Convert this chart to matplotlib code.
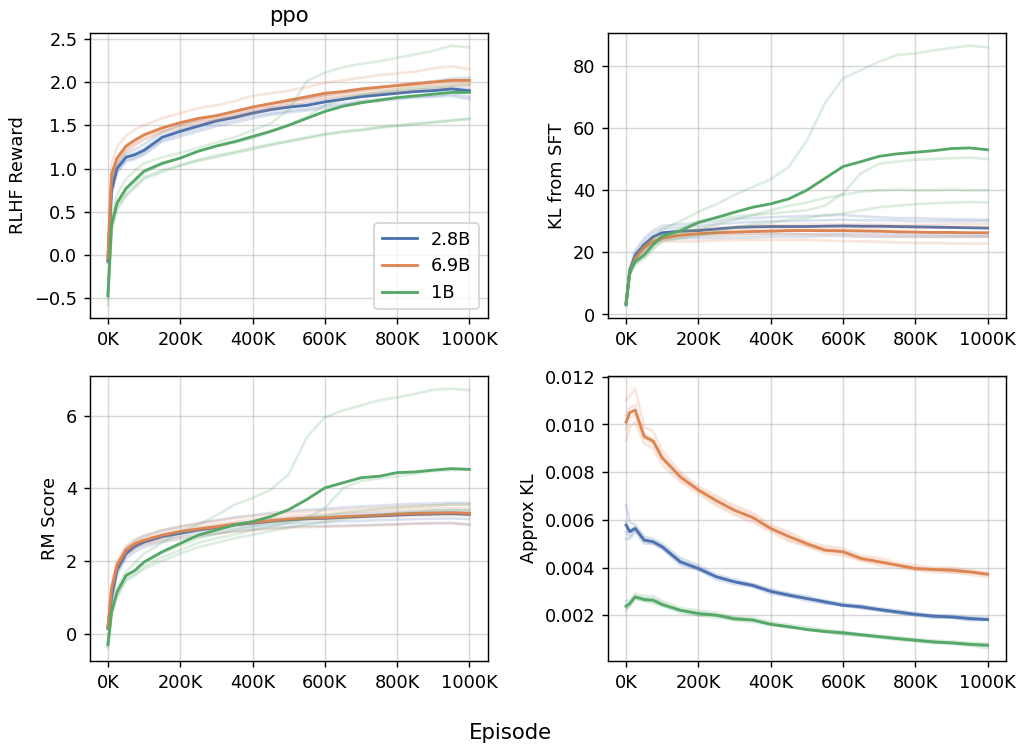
import numpy as np
import matplotlib
matplotlib.use("Agg")
import matplotlib.pyplot as plt
from matplotlib.ticker import FuncFormatter, MultipleLocator

# episode checkpoints (thousands)
episodes_k = [0, 10, 25, 50, 75, 100, 150, 200, 250, 300, 350, 400, 450,
              500, 550, 600, 650, 700, 750, 800, 850, 900, 950, 1000]

models = ["2.8B", "6.9B", "1B"]
colors = ["#4C72B0", "#DD8452", "#55A868"]

# ---- RLHF Reward ----
reward_2_8b = [-0.07, 0.75, 1.00, 1.13, 1.16, 1.21, 1.36, 1.43, 1.49, 1.55, 1.59, 1.64, 1.68,
               1.71, 1.73, 1.77, 1.80, 1.83, 1.85, 1.87, 1.89, 1.90, 1.92, 1.90]
reward_2_8b_runs = [
    [-0.05, 0.80, 1.05, 1.18, 1.22, 1.28, 1.42, 1.50, 1.56, 1.62, 1.66, 1.71, 1.75, 1.78, 1.81, 1.85, 1.88, 1.91, 1.94, 1.96, 1.99, 2.01, 2.04, 2.05],
    [-0.06, 0.77, 1.02, 1.15, 1.18, 1.23, 1.38, 1.45, 1.51, 1.57, 1.61, 1.66, 1.70, 1.73, 1.75, 1.79, 1.82, 1.85, 1.87, 1.89, 1.91, 1.92, 1.94, 1.92],
    [-0.08, 0.72, 0.97, 1.10, 1.13, 1.18, 1.33, 1.40, 1.46, 1.52, 1.56, 1.61, 1.64, 1.67, 1.69, 1.73, 1.75, 1.78, 1.80, 1.82, 1.83, 1.84, 1.86, 1.83],
    [-0.09, 0.70, 0.95, 1.08, 1.11, 1.16, 1.31, 1.37, 1.43, 1.49, 1.53, 1.58, 1.62, 1.65, 1.67, 1.70, 1.73, 1.77, 1.78, 1.80, 1.82, 1.83, 1.84, 1.80],
]
reward_6_9b = [-0.03, 0.93, 1.12, 1.26, 1.33, 1.39, 1.47, 1.53, 1.58, 1.61, 1.66, 1.71, 1.75,
               1.79, 1.83, 1.87, 1.89, 1.92, 1.94, 1.96, 1.98, 2.00, 2.02, 2.02]
reward_6_9b_runs = [
    [0.02, 1.05, 1.25, 1.38, 1.45, 1.50, 1.58, 1.64, 1.70, 1.73, 1.78, 1.84, 1.87, 1.90, 1.94, 1.99, 2.02, 2.05, 2.08, 2.10, 2.12, 2.16, 2.18, 2.15],
    [-0.05, 0.92, 1.10, 1.24, 1.31, 1.38, 1.45, 1.51, 1.55, 1.60, 1.64, 1.69, 1.73, 1.77, 1.81, 1.85, 1.87, 1.90, 1.92, 1.94, 1.96, 1.97, 2.00, 2.00],
    [-0.04, 0.88, 1.08, 1.22, 1.28, 1.35, 1.43, 1.50, 1.55, 1.57, 1.62, 1.67, 1.71, 1.76, 1.80, 1.83, 1.85, 1.88, 1.90, 1.92, 1.95, 1.96, 1.98, 1.97],
    [-0.06, 0.86, 1.05, 1.20, 1.27, 1.33, 1.42, 1.47, 1.52, 1.56, 1.60, 1.64, 1.69, 1.73, 1.77, 1.81, 1.83, 1.86, 1.87, 1.89, 1.91, 1.93, 1.95, 1.96],
]
reward_1b = [-0.47, 0.35, 0.60, 0.77, 0.87, 0.97, 1.06, 1.12, 1.20, 1.26, 1.31, 1.37, 1.43,
             1.50, 1.58, 1.66, 1.72, 1.76, 1.79, 1.82, 1.84, 1.86, 1.88, 1.88]
reward_1b_runs = [
    [-0.45, 0.45, 0.70, 0.88, 0.98, 1.06, 1.13, 1.18, 1.24, 1.30, 1.36, 1.44, 1.52, 1.68, 2.01, 2.11, 2.17, 2.21, 2.24, 2.28, 2.32, 2.36, 2.42, 2.40],
    [-0.48, 0.35, 0.58, 0.75, 0.85, 0.95, 1.05, 1.12, 1.20, 1.26, 1.30, 1.35, 1.42, 1.50, 1.60, 1.73, 1.80, 1.85, 1.88, 1.91, 1.93, 1.94, 1.96, 1.97],
    [-0.50, 0.30, 0.55, 0.70, 0.80, 0.90, 0.98, 1.04, 1.10, 1.15, 1.19, 1.24, 1.28, 1.32, 1.36, 1.40, 1.43, 1.45, 1.48, 1.50, 1.52, 1.54, 1.56, 1.58],
    [-0.58, 0.28, 0.52, 0.68, 0.78, 0.88, 0.96, 1.03, 1.09, 1.13, 1.18, 1.22, 1.27, 1.31, 1.35, 1.39, 1.42, 1.44, 1.47, 1.49, 1.51, 1.53, 1.55, 1.57],
]

# ---- KL from SFT ----
kl_2_8b = [3.5, 14.0, 19.0, 22.5, 25.0, 26.3, 26.8, 27.0, 27.5, 28.0, 28.2, 28.3, 28.3,
           28.3, 28.4, 28.5, 28.4, 28.4, 28.3, 28.2, 28.1, 28.0, 27.9, 27.8]
kl_2_8b_runs = [
    [3.5, 15.0, 20.5, 24.5, 27.0, 28.5, 29.0, 29.5, 30.0, 30.8, 31.0, 31.3, 31.5, 31.7, 31.8, 32.0, 31.6, 31.3, 31.0, 31.0, 30.8, 30.7, 30.6, 30.5],
    [3.5, 14.5, 19.5, 23.5, 26.0, 27.5, 28.0, 28.5, 29.0, 29.5, 29.8, 30.0, 30.0, 30.2, 30.3, 30.5, 30.3, 30.3, 30.2, 30.0, 30.0, 30.0, 30.0, 30.0],
    [3.5, 13.5, 18.5, 21.5, 24.0, 25.0, 25.5, 25.5, 25.8, 26.0, 26.0, 26.0, 26.0, 25.8, 26.0, 26.0, 26.0, 26.0, 25.9, 25.8, 25.7, 25.6, 25.5, 25.5],
    [3.5, 13.0, 17.5, 20.5, 23.0, 24.2, 24.5, 24.5, 24.6, 24.7, 24.8, 25.0, 25.0, 25.0, 25.2, 25.2, 25.0, 25.0, 25.0, 25.0, 25.0, 25.0, 25.0, 25.0],
]
kl_6_9b = [4.0, 13.0, 18.0, 21.5, 23.5, 24.5, 25.5, 26.0, 26.3, 26.5, 26.7, 26.8, 27.0,
           27.0, 27.0, 27.0, 26.9, 26.8, 26.6, 26.5, 26.4, 26.4, 26.3, 26.3]
kl_6_9b_runs = [
    [4.0, 13.5, 18.5, 22.5, 24.5, 25.5, 26.8, 27.5, 28.0, 28.2, 28.5, 28.6, 28.8, 29.0, 29.0, 29.0, 29.0, 28.9, 28.8, 28.8, 28.9, 29.0, 29.0, 29.0],
    [4.0, 13.2, 18.2, 22.0, 24.0, 25.0, 26.0, 26.6, 27.0, 27.2, 27.5, 27.6, 27.8, 27.9, 28.0, 28.0, 27.9, 27.9, 27.9, 27.8, 27.9, 28.0, 28.0, 28.0],
    [4.0, 12.8, 17.8, 21.0, 23.0, 24.0, 24.8, 25.2, 25.3, 25.5, 25.6, 25.7, 25.8, 25.8, 25.6, 25.6, 25.4, 25.3, 25.2, 25.1, 25.0, 25.0, 25.0, 25.0],
    [4.0, 12.5, 17.5, 20.5, 22.5, 23.5, 23.5, 23.5, 23.8, 23.9, 24.0, 24.0, 24.0, 24.0, 23.8, 23.6, 23.5, 23.4, 23.2, 23.0, 23.0, 22.9, 22.8, 22.8],
]
kl_1b = [3.1, 13.8, 17.0, 19.2, 22.5, 25.2, 26.9, 29.6, 31.2, 32.9, 34.5, 35.6, 37.2,
         40.0, 43.8, 47.6, 49.2, 50.9, 51.7, 52.2, 52.7, 53.4, 53.6, 53.0]
kl_1b_runs = [
    [3.0, 14.5, 18.5, 21.5, 24.5, 27.5, 30.0, 33.0, 35.5, 38.5, 41.0, 43.5, 47.5, 56.0, 68.0, 76.0, 78.7, 81.4, 83.5, 84.0, 85.0, 85.8, 86.5, 86.0],
    [3.0, 13.5, 16.5, 19.0, 22.5, 25.5, 27.5, 30.0, 31.0, 31.5, 32.0, 32.5, 33.0, 33.5, 35.0, 39.0, 45.5, 48.5, 49.2, 49.8, 50.0, 50.3, 50.5, 50.0],
    [3.2, 13.5, 16.5, 18.5, 21.5, 24.5, 26.0, 27.5, 29.0, 30.5, 32.0, 33.5, 35.0, 36.0, 37.5, 38.5, 39.5, 40.0, 40.2, 40.0, 40.0, 40.2, 40.0, 40.0],
    [3.2, 13.0, 16.0, 18.0, 21.0, 23.5, 24.5, 25.5, 26.5, 28.0, 29.0, 29.5, 30.5, 31.0, 32.0, 32.5, 33.5, 34.5, 35.0, 35.5, 35.8, 36.0, 36.2, 36.0],
]

# ---- RM Score ----
rm_2_8b = [0.15, 1.00, 1.75, 2.20, 2.40, 2.52, 2.67, 2.76, 2.85, 2.92, 2.99, 3.04, 3.09,
           3.13, 3.16, 3.17, 3.20, 3.22, 3.24, 3.26, 3.28, 3.29, 3.30, 3.28]
rm_2_8b_runs = [
    [0.18, 1.10, 1.88, 2.35, 2.55, 2.68, 2.84, 2.94, 3.04, 3.12, 3.20, 3.26, 3.32, 3.37, 3.41, 3.43, 3.47, 3.50, 3.52, 3.55, 3.57, 3.58, 3.60, 3.60],
    [0.16, 1.03, 1.78, 2.24, 2.44, 2.56, 2.71, 2.80, 2.89, 2.96, 3.03, 3.08, 3.14, 3.18, 3.22, 3.24, 3.27, 3.30, 3.32, 3.34, 3.36, 3.38, 3.39, 3.38],
    [0.13, 0.97, 1.70, 2.15, 2.34, 2.46, 2.60, 2.69, 2.78, 2.84, 2.90, 2.95, 2.99, 3.03, 3.05, 3.06, 3.09, 3.10, 3.12, 3.14, 3.15, 3.16, 3.17, 3.15],
    [0.12, 0.92, 1.62, 2.06, 2.26, 2.38, 2.52, 2.60, 2.68, 2.75, 2.82, 2.87, 2.91, 2.94, 2.96, 2.96, 2.97, 2.98, 3.00, 3.01, 3.03, 3.04, 3.05, 3.00],
]
rm_6_9b = [0.17, 1.23, 1.88, 2.30, 2.48, 2.57, 2.71, 2.81, 2.88, 2.94, 3.01, 3.06, 3.11,
           3.15, 3.18, 3.19, 3.22, 3.24, 3.26, 3.29, 3.31, 3.32, 3.33, 3.31]
rm_6_9b_runs = [
    [0.20, 1.35, 2.00, 2.42, 2.60, 2.70, 2.85, 2.95, 3.03, 3.10, 3.17, 3.22, 3.28, 3.32, 3.36, 3.38, 3.41, 3.44, 3.46, 3.49, 3.51, 3.53, 3.55, 3.55],
    [0.18, 1.28, 1.92, 2.35, 2.52, 2.62, 2.77, 2.87, 2.95, 3.01, 3.08, 3.13, 3.19, 3.23, 3.27, 3.29, 3.33, 3.35, 3.38, 3.41, 3.43, 3.44, 3.46, 3.45],
    [0.15, 1.18, 1.85, 2.27, 2.44, 2.53, 2.67, 2.77, 2.84, 2.90, 2.97, 3.02, 3.06, 3.10, 3.13, 3.14, 3.17, 3.19, 3.21, 3.23, 3.24, 3.25, 3.26, 3.25],
    [0.12, 1.10, 1.75, 2.18, 2.36, 2.45, 2.56, 2.65, 2.70, 2.75, 2.80, 2.84, 2.88, 2.91, 2.93, 2.94, 2.95, 2.97, 2.98, 3.00, 3.02, 3.03, 3.03, 3.00],
]
rm_1b = [-0.30, 0.60, 1.14, 1.60, 1.74, 1.97, 2.25, 2.48, 2.71, 2.85, 2.99, 3.08, 3.22,
         3.41, 3.69, 4.01, 4.15, 4.29, 4.33, 4.43, 4.45, 4.50, 4.54, 4.52]
rm_1b_runs = [
    [-0.30, 0.70, 1.25, 1.70, 1.95, 2.20, 2.50, 2.80, 3.00, 3.25, 3.55, 3.73, 3.96, 4.38, 5.40, 5.95, 6.14, 6.28, 6.42, 6.50, 6.60, 6.71, 6.74, 6.70],
    [-0.30, 0.60, 1.12, 1.58, 1.75, 1.95, 2.22, 2.42, 2.62, 2.75, 2.85, 2.95, 3.05, 3.10, 3.18, 3.45, 4.00, 4.20, 4.27, 4.33, 4.40, 4.47, 4.50, 4.52],
    [-0.35, 0.55, 1.05, 1.50, 1.65, 1.85, 2.10, 2.30, 2.50, 2.62, 2.72, 2.85, 2.95, 3.05, 3.15, 3.25, 3.32, 3.38, 3.43, 3.47, 3.50, 3.52, 3.55, 3.55],
    [-0.40, 0.50, 1.00, 1.45, 1.60, 1.78, 2.00, 2.20, 2.38, 2.50, 2.62, 2.72, 2.82, 2.92, 3.00, 3.08, 3.15, 3.22, 3.27, 3.32, 3.35, 3.38, 3.40, 3.40],
]

# ---- Approx KL ----
akl_2_8b = [0.00578, 0.00550, 0.00564, 0.00515, 0.00508, 0.00487, 0.00424, 0.00396, 0.00361, 0.00340, 0.00325, 0.00300,
            0.00284, 0.00270, 0.00256, 0.00242, 0.00235, 0.00224, 0.00214, 0.00204, 0.00196, 0.00193, 0.00186, 0.00182]
akl_2_8b_runs = [
    [0.0066, 0.0059, 0.0058, 0.0053, 0.0052, 0.0050, 0.0044, 0.0041, 0.0037, 0.0035, 0.0033, 0.0031, 0.0029, 0.0028, 0.0026, 0.0025, 0.0024, 0.0023, 0.0022, 0.0021, 0.0020, 0.0020, 0.0019, 0.0019],
    [0.0059, 0.0056, 0.0057, 0.0052, 0.0051, 0.0049, 0.0043, 0.0040, 0.0036, 0.0034, 0.0033, 0.0030, 0.0029, 0.0027, 0.0026, 0.0024, 0.0024, 0.0022, 0.0021, 0.0020, 0.0020, 0.0019, 0.0019, 0.0018],
    [0.0055, 0.0053, 0.0056, 0.0051, 0.0050, 0.0048, 0.0042, 0.0039, 0.0036, 0.0034, 0.0032, 0.0030, 0.0028, 0.0027, 0.0025, 0.0024, 0.0023, 0.0022, 0.0021, 0.0020, 0.0019, 0.0019, 0.0018, 0.0018],
    [0.0052, 0.0052, 0.0055, 0.0050, 0.0050, 0.0048, 0.0041, 0.0039, 0.0035, 0.0033, 0.0032, 0.0029, 0.0028, 0.0026, 0.0025, 0.0024, 0.0023, 0.0022, 0.0021, 0.0020, 0.0019, 0.0019, 0.0018, 0.0018],
]
akl_6_9b = [0.0101, 0.0105, 0.0106, 0.0095, 0.0093, 0.0086, 0.0078, 0.00725, 0.0068, 0.0064, 0.0061, 0.00564,
            0.0053, 0.0050, 0.00473, 0.00466, 0.00438, 0.00424, 0.0041, 0.00396, 0.00392, 0.00389, 0.00382, 0.00372]
akl_6_9b_runs = [
    [0.0110, 0.0112, 0.0115, 0.0099, 0.0097, 0.0089, 0.0080, 0.0074, 0.0070, 0.0066, 0.0063, 0.0058, 0.0055, 0.0051, 0.0049, 0.0048, 0.0045, 0.0044, 0.0042, 0.0041, 0.0040, 0.0040, 0.0039, 0.0038],
    [0.0104, 0.0107, 0.0108, 0.0096, 0.0094, 0.0087, 0.0079, 0.0073, 0.0069, 0.0065, 0.0062, 0.0057, 0.0054, 0.0050, 0.0048, 0.0047, 0.0044, 0.0043, 0.0041, 0.0040, 0.0039, 0.0039, 0.0038, 0.0037],
    [0.0098, 0.0103, 0.0104, 0.0094, 0.0092, 0.0085, 0.0077, 0.0072, 0.0067, 0.0063, 0.0060, 0.0056, 0.0052, 0.0049, 0.0047, 0.0046, 0.0043, 0.0042, 0.0041, 0.0039, 0.0039, 0.0038, 0.0038, 0.0037],
    [0.0093, 0.0099, 0.0101, 0.0092, 0.0090, 0.0083, 0.0076, 0.0071, 0.0066, 0.0062, 0.0059, 0.0055, 0.0051, 0.0049, 0.0046, 0.0045, 0.0043, 0.0041, 0.0040, 0.0039, 0.0038, 0.0038, 0.0037, 0.0036],
]
akl_1b = [0.00238, 0.00249, 0.00277, 0.00266, 0.00263, 0.00245, 0.00221, 0.00207, 0.00200, 0.00185, 0.00180, 0.00162,
          0.00152, 0.00140, 0.00132, 0.00126, 0.00118, 0.00110, 0.00102, 0.00095, 0.00088, 0.00084, 0.00078, 0.00074]
akl_1b_runs = [
    [0.0026, 0.0026, 0.0029, 0.0028, 0.0028, 0.0026, 0.0023, 0.0022, 0.0021, 0.0019, 0.0019, 0.0017, 0.0016, 0.0015, 0.0014, 0.0013, 0.0012, 0.00115, 0.00108, 0.00101, 0.00094, 0.00090, 0.00085, 0.00082],
    [0.0024, 0.0025, 0.0028, 0.0027, 0.0027, 0.0025, 0.0022, 0.0021, 0.0020, 0.0019, 0.0018, 0.0016, 0.0015, 0.0014, 0.0013, 0.0013, 0.0012, 0.00111, 0.00103, 0.00096, 0.00089, 0.00085, 0.00079, 0.00075],
    [0.0023, 0.0024, 0.0027, 0.0026, 0.0026, 0.0024, 0.0022, 0.0020, 0.0020, 0.0018, 0.0018, 0.0016, 0.0015, 0.0014, 0.0013, 0.0012, 0.00115, 0.00108, 0.00100, 0.00093, 0.00086, 0.00082, 0.00076, 0.00071],
    [0.0022, 0.0024, 0.0027, 0.0026, 0.0025, 0.0024, 0.0021, 0.0020, 0.0019, 0.0018, 0.0017, 0.0016, 0.0015, 0.0014, 0.0013, 0.0012, 0.00113, 0.00105, 0.00097, 0.00090, 0.00083, 0.00079, 0.00073, 0.00062],
]

panels = [
    ("RLHF Reward", [reward_2_8b, reward_6_9b, reward_1b], [reward_2_8b_runs, reward_6_9b_runs, reward_1b_runs]),
    ("KL from SFT", [kl_2_8b, kl_6_9b, kl_1b], [kl_2_8b_runs, kl_6_9b_runs, kl_1b_runs]),
    ("RM Score", [rm_2_8b, rm_6_9b, rm_1b], [rm_2_8b_runs, rm_6_9b_runs, rm_1b_runs]),
    ("Approx KL", [akl_2_8b, akl_6_9b, akl_1b], [akl_2_8b_runs, akl_6_9b_runs, akl_1b_runs]),
]

x = np.array(episodes_k) * 1000

fig, axes = plt.subplots(2, 2, figsize=(8, 5.854), dpi=127.625)
fig.subplots_adjust(left=0.088, right=0.985, top=0.956, bottom=0.115, wspace=0.303, hspace=0.202)

for ax, (label, means, runs) in zip(axes.flat, panels):
    for name, color, mean, seeds in zip(models, colors, means, runs):
        for s in seeds:
            ax.plot(x, s, color=color, alpha=0.2, lw=1.5)
        ax.plot(x, mean, color=color, lw=1.6, label=name)
    ax.set_ylabel(label)
    ax.set_xticks([0, 200000, 400000, 600000, 800000, 1000000])
    ax.xaxis.set_major_formatter(FuncFormatter(lambda v, p: f"{int(round(v / 1000))}K"))
    ax.grid(True, color="#b0b0b0", alpha=0.5, lw=0.8)

# RM score only labels every other integer
axes[1, 0].yaxis.set_major_locator(MultipleLocator(2))

axes[0, 0].set_title("ppo")
axes[0, 0].legend(loc="lower right")
fig.text(0.5, 0.019, "Episode", ha="center", va="center", fontsize=12)

plt.savefig("out.png")
